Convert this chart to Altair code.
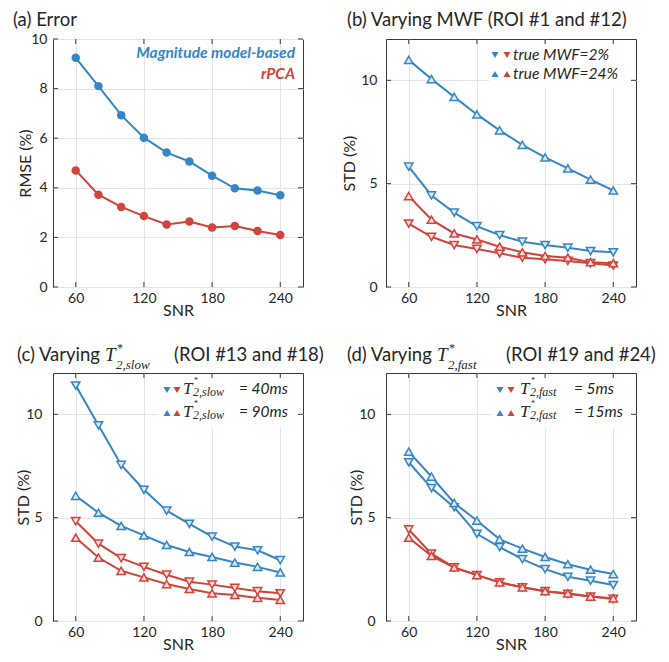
import altair as alt
import pandas as pd

# ---------------- data ----------------
SNR = [60, 80, 100, 120, 140, 160, 180, 200, 220, 240]
X_TICKS = [60, 120, 180, 240]

A_MAG = [9.24, 8.10, 6.93, 6.02, 5.42, 5.06, 4.49, 3.98, 3.89, 3.70]
A_RPCA = [4.70, 3.72, 3.23, 2.86, 2.52, 2.64, 2.40, 2.46, 2.26, 2.10]

B_MAG_2 = [5.82, 4.43, 3.60, 2.94, 2.51, 2.19, 2.03, 1.90, 1.74, 1.68]
B_MAG_24 = [10.99, 10.06, 9.20, 8.35, 7.58, 6.88, 6.27, 5.74, 5.20, 4.67]
B_RPCA_2 = [3.07, 2.43, 2.03, 1.84, 1.63, 1.42, 1.34, 1.26, 1.15, 1.04]
B_RPCA_24 = [4.40, 3.26, 2.59, 2.30, 1.95, 1.68, 1.50, 1.42, 1.20, 1.15]

C_MAG_40 = [11.39, 9.47, 7.55, 6.35, 5.34, 4.70, 4.08, 3.60, 3.42, 2.94]
C_MAG_90 = [6.06, 5.24, 4.60, 4.14, 3.68, 3.34, 3.10, 2.83, 2.62, 2.35]
C_RPCA_40 = [4.83, 3.74, 3.04, 2.62, 2.24, 1.90, 1.76, 1.60, 1.44, 1.34]
C_RPCA_90 = [4.03, 3.07, 2.43, 2.11, 1.79, 1.55, 1.34, 1.26, 1.12, 1.02]

D_MAG_5 = [7.68, 6.43, 5.50, 4.22, 3.58, 2.99, 2.51, 2.14, 1.95, 1.74]
D_MAG_15 = [8.19, 6.99, 5.71, 4.86, 3.95, 3.50, 3.10, 2.75, 2.48, 2.27]
D_RPCA_5 = [4.43, 3.26, 2.59, 2.22, 1.87, 1.63, 1.44, 1.31, 1.18, 1.07]
D_RPCA_15 = [4.03, 3.15, 2.59, 2.22, 1.87, 1.63, 1.44, 1.34, 1.18, 1.10]

# ---------------- style ----------------
BLUE = "#3586c4"
RED = "#d2433b"
BLUE_FILL = "#dce9f4"
RED_FILL = "#f6dedc"
FRAME = "#3a3a3a"
TEXT = "#262626"
GRID = "#e4e4e4"
SANS = "Lato"
SERIF = "Liberation Serif"
W = 250
H = 248

ONE = pd.DataFrame({"k": [0]})


def long_df(series):
    rows = []
    for method, ser, vals in series:
        for s, v in zip(SNR, vals):
            rows.append({"snr": s, "value": v, "method": method, "series": ser})
    return pd.DataFrame(rows)


def x_axis():
    return alt.Axis(values=X_TICKS, grid=True, gridColor=GRID, ticks=False, tickSize=0,
                    domain=False, labelPadding=4, labelFont=SANS, labelFontSize=14,
                    labelColor=TEXT, title="SNR", titleFont=SANS, titleFontSize=16,
                    titleFontWeight="normal", titleColor=TEXT, titlePadding=-3)


def y_axis(ticks, title, lp, tp):
    return alt.Axis(values=ticks, grid=True, gridColor=GRID, ticks=False, tickSize=0,
                    domain=False, labelPadding=lp, labelFont=SANS, labelFontSize=14,
                    labelColor=TEXT, title=title, titleFont=SANS, titleFontSize=16,
                    titleFontWeight="normal", titleColor=TEXT, titlePadding=tp)


def txt(s, x, y, size, font=SANS, style="normal", weight="normal", color=TEXT, align="left"):
    return alt.Chart(ONE).mark_text(
        text=s, font=font, fontSize=size, fontStyle=style, fontWeight=weight,
        color=color, align=align, baseline="alphabetic"
    ).encode(x=alt.value(x), y=alt.value(y))


def sym(shape, color, x, y):
    return alt.Chart(ONE).mark_point(
        shape=shape, filled=True, size=50, color=color, opacity=1
    ).encode(x=alt.value(x), y=alt.value(y))


def box(x1, x2, y1, y2):
    return alt.Chart(ONE).mark_rect(color="white").encode(
        x=alt.value(x1), x2=alt.value(x2), y=alt.value(y1), y2=alt.value(y2))


def panel(df, ymax, yticks, ytitle, lp, tp, circles, extras_below, extras_above):
    xs = alt.Scale(domain=[40, 260], nice=False)
    ys = alt.Scale(domain=[0, ymax], nice=False)

    def X():
        return alt.X("snr:Q", scale=xs, axis=x_axis())

    def Y():
        return alt.Y("value:Q", scale=ys, axis=y_axis(yticks, ytitle, lp, tp))

    ytd = pd.DataFrame({"value": yticks})
    xtd = pd.DataFrame({"snr": X_TICKS})
    tick_l = alt.Chart(ytd).mark_rule(color=FRAME, strokeWidth=1).encode(
        y=Y(), x=alt.value(0), x2=alt.value(5))
    tick_r = alt.Chart(ytd).mark_rule(color=FRAME, strokeWidth=1).encode(
        y=Y(), x=alt.value(W - 5), x2=alt.value(W))
    tick_b = alt.Chart(xtd).mark_rule(color=FRAME, strokeWidth=1).encode(
        x=X(), y=alt.value(H - 5), y2=alt.value(H))
    tick_t = alt.Chart(xtd).mark_rule(color=FRAME, strokeWidth=1).encode(
        x=X(), y=alt.value(0), y2=alt.value(5))

    cscale = alt.Scale(domain=["mag", "rpca"], range=[BLUE, RED])
    lines = alt.Chart(df).mark_line(strokeWidth=2).encode(
        x=X(), y=Y(),
        color=alt.Color("method:N", scale=cscale, legend=None),
        detail="series:N")
    if circles:
        pts = alt.Chart(df).mark_circle(size=72, opacity=1).encode(
            x=X(), y=Y(), color=alt.Color("method:N", scale=cscale, legend=None))
    else:
        pts = alt.Chart(df).mark_point(size=70, strokeWidth=1.5, opacity=1, fillOpacity=1).encode(
            x=X(), y=Y(),
            shape=alt.Shape("series:N", scale=alt.Scale(domain=["down", "up"],
                            range=["triangle-down", "triangle-up"]), legend=None),
            stroke=alt.Stroke("method:N", scale=cscale, legend=None),
            fill=alt.Fill("method:N", scale=alt.Scale(domain=["mag", "rpca"],
                          range=[BLUE_FILL, RED_FILL]), legend=None))
    layers = extras_below + [tick_l, tick_r, tick_b, tick_t, lines, pts] + extras_above
    return alt.layer(*layers).properties(width=W, height=H)


def tstar(x, base_y, sub, tsize, ssize, supsize, sup_dy, sub_dy, t_w):
    return [
        txt("T", x, base_y, tsize, font=SERIF, style="italic"),
        txt("*", x + t_w + 1, base_y + sup_dy, supsize, font=SERIF),
        txt(sub, x + t_w, base_y + sub_dy, ssize, font=SERIF, style="italic"),
    ]


# ---------------- panel (a) ----------------
df_a = long_df([("mag", "m", A_MAG), ("rpca", "r", A_RPCA)])
pa = panel(df_a, 10, [0, 2, 4, 6, 8, 10], "RMSE (%)", 6, -3, True, [], [
    txt("(a) Error", -40, -12.7, 18.5),
    txt("Magnitude model-based", 242, 19, 15.5, style="italic", weight="bold", color=BLUE, align="right"),
    txt("rPCA", 242, 40, 15.5, style="italic", weight="bold", color=RED, align="right"),
])

# ---------------- panel (b) ----------------
df_b = long_df([("mag", "down", B_MAG_2), ("mag", "up", B_MAG_24),
                ("rpca", "down", B_RPCA_2), ("rpca", "up", B_RPCA_24)])
pb = panel(df_b, 12, [0, 5, 10], "STD (%)", 9, 3, False, [box(103, 245, 6, 48)], [
    txt("(b) Varying MWF (ROI #1 and #12)", -39, -12.7, 18.5),
    sym("triangle-down", BLUE, 109, 16), sym("triangle-down", RED, 121, 16),
    sym("triangle-up", BLUE, 109, 35), sym("triangle-up", RED, 121, 35),
    txt("true MWF=2%", 127, 21, 15.5, style="italic"),
    txt("true MWF=24%", 127, 40, 15.5, style="italic"),
])

# ---------------- panel (c) ----------------
df_c = long_df([("mag", "down", C_MAG_40), ("mag", "up", C_MAG_90),
                ("rpca", "down", C_RPCA_40), ("rpca", "up", C_RPCA_90)])
pc = panel(df_c, 12, [0, 5, 10], "STD (%)", 11, -6, False, [box(105, 248, 3, 55)],
    [txt("(c) Varying", -36, -12, 18.5)]
    + tstar(52, -12, "2,slow", 19, 13, 12, -9, 8, 11)
    + [txt("(ROI #13 and #18)", 121, -12, 18.5),
       sym("triangle-down", BLUE, 114, 17), sym("triangle-down", RED, 124, 17),
       sym("triangle-up", BLUE, 114, 40), sym("triangle-up", RED, 124, 40)]
    + tstar(130, 21, "2,slow", 17, 12, 8, -11, 2, 10)
    + [txt("= 40ms", 186, 21, 15.5, style="italic")]
    + tstar(130, 44, "2,slow", 17, 12, 8, -11, 2, 10)
    + [txt("= 90ms", 186, 44, 15.5, style="italic")]
)

# ---------------- panel (d) ----------------
df_d = long_df([("mag", "down", D_MAG_5), ("mag", "up", D_MAG_15),
                ("rpca", "down", D_RPCA_5), ("rpca", "up", D_RPCA_15)])
pdd = panel(df_d, 12, [0, 5, 10], "STD (%)", 11, -6, False, [box(107, 248, 3, 55)],
    [txt("(d) Varying", -39, -12, 18.5)]
    + tstar(51, -12, "2,fast", 19, 13, 12, -9, 8, 11)
    + [txt("(ROI #19 and #24)", 120, -12, 18.5),
       sym("triangle-down", BLUE, 114, 17), sym("triangle-down", RED, 125, 17),
       sym("triangle-up", BLUE, 114, 40), sym("triangle-up", RED, 125, 40)]
    + tstar(134, 21, "2,fast", 17, 12, 8, -11, 2, 10)
    + [txt("= 5ms", 188, 21, 15.5, style="italic")]
    + tstar(134, 44, "2,fast", 17, 12, 8, -11, 2, 10)
    + [txt("= 15ms", 188, 44, 15.5, style="italic")]
)

chart = alt.concat(
    pa, pb, pc, pdd, columns=2, spacing={"row": 86, "column": 83}, bounds="flush"
).properties(
    autosize=alt.AutoSizeParams(type="none"),
    padding={"left": 45, "top": 31, "right": 608, "bottom": 615}
).configure_view(stroke=FRAME, strokeWidth=1)

chart.save("out.html", embed_options={"renderer": "svg", "actions": False})
